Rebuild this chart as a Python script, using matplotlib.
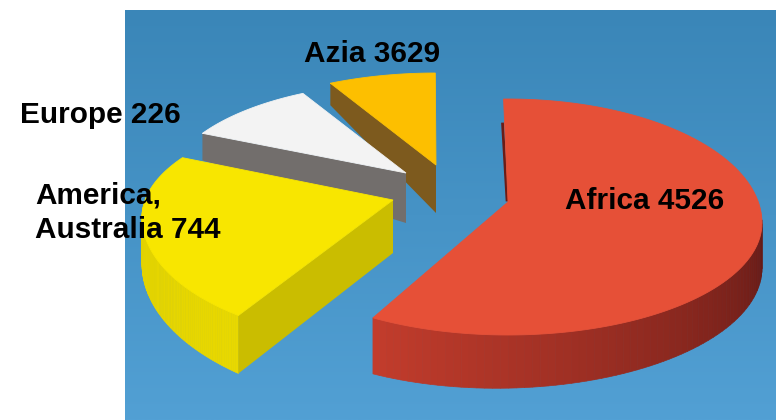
import numpy as np
import matplotlib
matplotlib.use('Agg')
import matplotlib.pyplot as plt
from matplotlib.colors import to_rgb

# values printed on the labels, clockwise from the top of the pie
regions = ['Africa', 'America,\nAustralia', 'Europe', 'Azia']
values = [4526, 744, 226, 3629]
# slice size as drawn in the picture (percent), not the same as the values
drawn_shares = [59.2, 23.6, 9.05, 6.9]

# layout, in pixels of the 776x420 picture
W, H = 776, 420
apex = {'Africa': (508, 202), 'Azia': (436, 165), 'Europe': (406, 173), 'America,\nAustralia': (393, 200)}
center_y = {'Africa': 223, 'Azia': 182, 'Europe': 190, 'America,\nAustralia': 217}
rx = {'Africa': 254, 'Azia': 250, 'Europe': 240, 'America,\nAustralia': 251}
ry_up = {'Africa': 124, 'Azia': 109, 'Europe': 107, 'America,\nAustralia': 109}
ry_down = {'Africa': 112, 'Azia': 109, 'Europe': 107, 'America,\nAustralia': 125}
turn = {'Africa': 1.0, 'Azia': -4.34, 'Europe': -3.9, 'America,\nAustralia': -4.9}
top_col = {'Africa': '#e65037', 'Azia': '#fdbf00', 'Europe': '#f3f3f3', 'America,\nAustralia': '#f8e600'}

label_pos = {'Africa': (565, 201), 'Azia': (304, 54), 'Europe': (20, 115), 'America,\nAustralia': (35, 213)}

fig = plt.figure(figsize=(W / 100, H / 100), dpi=100)
ax = fig.add_axes([0, 0, 1, 1])
ax.axis('off')

# blue backdrop, darker at the top
grad = np.linspace(0, 1, 256).reshape(-1, 1, 1)
c0 = np.array(to_rgb('#3a86b8')).reshape(1, 1, 3)
c1 = np.array(to_rgb('#52a0d4')).reshape(1, 1, 3)
ax.imshow(c0 + (c1 - c0) * grad, extent=(125, W, H, 10), aspect='auto', zorder=0)
ax.set_xlim(0, W)
ax.set_ylim(H, 0)


def arc(name, t0, t1):
    # outer edge of a slice, ry differs above and below the ellipse centre
    t = np.radians(np.linspace(t0, t1, 120))
    s = np.sin(t)
    ry = np.where(s > 0, ry_up[name], ry_down[name])
    return apex[name][0] + rx[name] * np.cos(t), center_y[name] - ry * s, s


def rim(x, y, d0, d1, col0, col1, z):
    # extruded outer wall, cut in small strips to get the shading
    d = np.linspace(d0, d1, len(x))
    c0, c1 = np.array(to_rgb(col0)), np.array(to_rgb(col1))
    for i in range(len(x) - 1):
        col = c0 + (c1 - c0) * i / (len(x) - 2)
        ax.fill([x[i], x[i + 1], x[i + 1], x[i]],
                [y[i], y[i + 1], y[i + 1] + d[i + 1], y[i] + d[i]],
                color=col, lw=0.5, zorder=z)


def side(x0, y0, d0, name, d1, col, z):
    # flat cut face from the outer corner to the apex
    ax_, ay = apex[name]
    ax.fill([x0, ax_, ax_, x0], [y0, ay, ay + d1, y0 + d0], color=col, lw=0, zorder=z)


# walk round the pie clockwise from the top
angles = 90 - np.cumsum([0] + drawn_shares) * 3.6
start = dict(zip(regions, angles[:-1]))
end = dict(zip(regions, angles[1:]))

for z, name in enumerate(['Africa', 'Azia', 'Europe', 'America,\nAustralia']):
    z = z * 3 + 1
    x, y, s = arc(name, start[name] + turn[name], end[name] + turn[name])
    if name == 'Africa':
        # only the part of the wall that faces us
        m = s < 0.05
        rim(x[m][::-1], y[m][::-1], 56, 45, '#c23c2c', '#651a16', z)
        ax.plot([x[0] - 1, apex[name][0] - 1], [y[0] + 25, apex[name][1] - 2], color='#6b1c17', lw=2, zorder=z)
    elif name == 'Azia':
        side(x[0], y[0], 22, name, 48, '#7d5a1e', z)
    elif name == 'Europe':
        side(x[0], y[0], 27, name, 50, '#726e6c', z)
    else:
        m = s < 0.1
        rim(x[m], y[m], 58, 46, '#e8d800', '#e2d200', z)
        side(x[0], y[0], 58, name, 53, '#cabd00', z)
    ax.fill(np.r_[apex[name][0], x], np.r_[apex[name][1], y], color=top_col[name], lw=0.6, zorder=z + 1)

for name, v in zip(regions, values):
    px, py = label_pos[name]
    ax.text(px, py, f'{name} {v}', family='Liberation Sans', fontweight='bold', fontsize=21.4,
            color='black', va='center', ha='left', linespacing=1.3, zorder=20)

fig.savefig('out.png', dpi=100)
